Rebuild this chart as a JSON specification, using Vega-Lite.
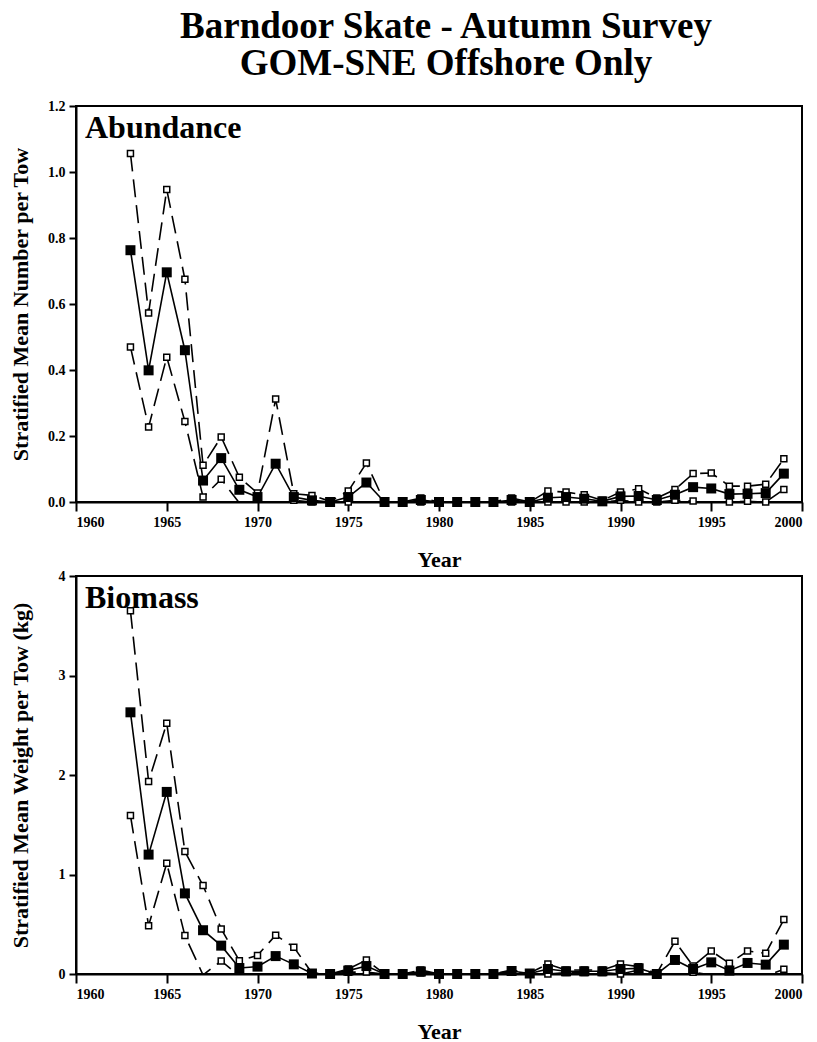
{
  "$schema": "https://vega.github.io/schema/vega-lite/v6.json",
  "background": "white",
  "padding": {"left": 8, "top": 8, "right": 12, "bottom": 0},
  "title": {
    "text": ["Barndoor Skate - Autumn Survey", "GOM-SNE Offshore Only"],
    "font": "Liberation Serif", "fontSize": 37, "fontWeight": "bold",
    "lineHeight": 37, "anchor": "middle", "color": "black", "offset": 15, "dx": 40
  },
  "config": {
    "view": {"stroke": "black", "strokeWidth": 2},
    "axis": {
      "labelFont": "Liberation Serif", "labelFontWeight": "bold", "labelFontSize": 14, "labelColor": "black",
      "titleFont": "Liberation Serif", "titleFontWeight": "bold", "titleFontSize": 22, "titleColor": "black",
      "domainColor": "black", "domainWidth": 2, "tickColor": "black", "tickWidth": 2, "grid": false
    },
    "axisX": {"tickSize": 9, "labelPadding": 4, "titlePadding": 20},
    "axisY": {"tickSize": 7, "labelPadding": 4, "titlePadding": 8, "minExtent": 36, "maxExtent": 36}
  },
  "spacing": -3,
  "datasets": {
    "abund": [
      {"year": 1963, "mean": 0.763, "upper": 1.056, "lower": 0.470},
      {"year": 1964, "mean": 0.399, "upper": 0.573, "lower": 0.227},
      {"year": 1965, "mean": 0.696, "upper": 0.947, "lower": 0.439},
      {"year": 1966, "mean": 0.460, "upper": 0.675, "lower": 0.244},
      {"year": 1967, "mean": 0.065, "upper": 0.111, "lower": 0.015},
      {"year": 1968, "mean": 0.133, "upper": 0.197, "lower": 0.069},
      {"year": 1969, "mean": 0.037, "upper": 0.075, "lower": -0.003},
      {"year": 1970, "mean": 0.015, "upper": 0.027, "lower": -0.004},
      {"year": 1971, "mean": 0.116, "upper": 0.312, "lower": -0.080},
      {"year": 1972, "mean": 0.015, "upper": 0.025, "lower": 0.005},
      {"year": 1973, "mean": 0.005, "upper": 0.020, "lower": 0},
      {"year": 1974, "mean": 0, "upper": 0.002, "lower": 0},
      {"year": 1975, "mean": 0.015, "upper": 0.033, "lower": 0},
      {"year": 1976, "mean": 0.059, "upper": 0.118, "lower": -0.005},
      {"year": 1977, "mean": 0, "upper": 0, "lower": 0},
      {"year": 1978, "mean": 0, "upper": 0, "lower": 0},
      {"year": 1979, "mean": 0.006, "upper": 0.012, "lower": 0},
      {"year": 1980, "mean": 0, "upper": 0, "lower": 0},
      {"year": 1981, "mean": 0, "upper": 0, "lower": 0},
      {"year": 1982, "mean": 0, "upper": 0, "lower": 0},
      {"year": 1983, "mean": 0, "upper": 0, "lower": 0},
      {"year": 1984, "mean": 0.006, "upper": 0.012, "lower": 0},
      {"year": 1985, "mean": 0, "upper": 0, "lower": 0},
      {"year": 1986, "mean": 0.013, "upper": 0.033, "lower": 0},
      {"year": 1987, "mean": 0.015, "upper": 0.030, "lower": 0},
      {"year": 1988, "mean": 0.010, "upper": 0.022, "lower": 0},
      {"year": 1989, "mean": 0.002, "upper": 0.005, "lower": 0},
      {"year": 1990, "mean": 0.017, "upper": 0.030, "lower": 0.005},
      {"year": 1991, "mean": 0.018, "upper": 0.040, "lower": 0},
      {"year": 1992, "mean": 0.006, "upper": 0.012, "lower": 0},
      {"year": 1993, "mean": 0.022, "upper": 0.038, "lower": 0.005},
      {"year": 1994, "mean": 0.045, "upper": 0.086, "lower": 0.003},
      {"year": 1995, "mean": 0.041, "upper": 0.088, "lower": -0.008},
      {"year": 1996, "mean": 0.024, "upper": 0.048, "lower": 0},
      {"year": 1997, "mean": 0.025, "upper": 0.048, "lower": 0.002},
      {"year": 1998, "mean": 0.027, "upper": 0.054, "lower": 0},
      {"year": 1999, "mean": 0.086, "upper": 0.131, "lower": 0.038}
    ],
    "bio": [
      {"year": 1963, "mean": 2.63, "upper": 3.65, "lower": 1.593},
      {"year": 1964, "mean": 1.20, "upper": 1.935, "lower": 0.486},
      {"year": 1965, "mean": 1.83, "upper": 2.52, "lower": 1.113},
      {"year": 1966, "mean": 0.81, "upper": 1.23, "lower": 0.386},
      {"year": 1967, "mean": 0.44, "upper": 0.889, "lower": -0.01},
      {"year": 1968, "mean": 0.285, "upper": 0.453, "lower": 0.131},
      {"year": 1969, "mean": 0.06, "upper": 0.134, "lower": -0.02},
      {"year": 1970, "mean": 0.074, "upper": 0.187, "lower": -0.04},
      {"year": 1971, "mean": 0.18, "upper": 0.39, "lower": -0.03},
      {"year": 1972, "mean": 0.097, "upper": 0.27, "lower": -0.08},
      {"year": 1973, "mean": 0.005, "upper": 0.01, "lower": 0},
      {"year": 1974, "mean": 0, "upper": 0, "lower": 0},
      {"year": 1975, "mean": 0.034, "upper": 0.05, "lower": 0.018},
      {"year": 1976, "mean": 0.08, "upper": 0.14, "lower": 0.02},
      {"year": 1977, "mean": 0, "upper": 0, "lower": 0},
      {"year": 1978, "mean": 0, "upper": 0, "lower": 0},
      {"year": 1979, "mean": 0.025, "upper": 0.04, "lower": 0.01},
      {"year": 1980, "mean": 0, "upper": 0, "lower": 0},
      {"year": 1981, "mean": 0, "upper": 0, "lower": 0},
      {"year": 1982, "mean": 0, "upper": 0, "lower": 0},
      {"year": 1983, "mean": 0, "upper": 0, "lower": 0},
      {"year": 1984, "mean": 0.03, "upper": 0.04, "lower": 0.02},
      {"year": 1985, "mean": 0.005, "upper": 0.01, "lower": 0},
      {"year": 1986, "mean": 0.05, "upper": 0.10, "lower": 0},
      {"year": 1987, "mean": 0.027, "upper": 0.04, "lower": 0.014},
      {"year": 1988, "mean": 0.027, "upper": 0.04, "lower": 0.014},
      {"year": 1989, "mean": 0.027, "upper": 0.04, "lower": 0.014},
      {"year": 1990, "mean": 0.05, "upper": 0.10, "lower": 0},
      {"year": 1991, "mean": 0.057, "upper": 0.074, "lower": 0.04},
      {"year": 1992, "mean": 0, "upper": 0.005, "lower": 0},
      {"year": 1993, "mean": 0.141, "upper": 0.329, "lower": -0.05},
      {"year": 1994, "mean": 0.05, "upper": 0.08, "lower": 0.017},
      {"year": 1995, "mean": 0.117, "upper": 0.231, "lower": -0.01},
      {"year": 1996, "mean": 0.034, "upper": 0.107, "lower": -0.04},
      {"year": 1997, "mean": 0.111, "upper": 0.231, "lower": -0.01},
      {"year": 1998, "mean": 0.094, "upper": 0.208, "lower": -0.02},
      {"year": 1999, "mean": 0.295, "upper": 0.547, "lower": 0.047}
    ]
  },
  "vconcat": [
    {
      "width": 726, "height": 396,
      "encoding": {
        "x": {"field": "year", "type": "quantitative", "scale": {"domain": [1960, 2000], "nice": false, "zero": false},
              "axis": {"values": [1960, 1965, 1970, 1975, 1980, 1985, 1990, 1995, 2000], "format": "d", "title": "Year"}},
        "y": {"field": "value", "type": "quantitative", "scale": {"domain": [0, 1.2], "nice": false},
              "axis": {"values": [0, 0.2, 0.4, 0.6, 0.8, 1.0, 1.2], "format": ".1f", "title": "Stratified Mean Number per Tow"}}
      },
      "layer": [
        {"data": {"name": "abund"},
         "transform": [{"fold": ["mean", "upper", "lower"], "as": ["series", "value"]}, {"filter": "datum.series !== 'mean'"}],
         "mark": {"type": "line", "color": "black", "strokeWidth": 1.6, "strokeDash": [18, 8], "clip": true},
         "encoding": {"detail": {"field": "series"}}},
        {"data": {"name": "abund"},
         "transform": [{"fold": ["mean", "upper", "lower"], "as": ["series", "value"]}, {"filter": "datum.series === 'mean'"}],
         "mark": {"type": "line", "color": "black", "strokeWidth": 1.6, "clip": true}},
        {"data": {"name": "abund"},
         "transform": [{"fold": ["mean", "upper", "lower"], "as": ["series", "value"]}, {"filter": "datum.series !== 'mean' && datum.value >= 0"}],
         "mark": {"type": "point", "shape": "square", "filled": true, "fill": "white", "stroke": "black", "strokeWidth": 1.5, "size": 36, "opacity": 1}},
        {"data": {"name": "abund"},
         "transform": [{"fold": ["mean", "upper", "lower"], "as": ["series", "value"]}, {"filter": "datum.series === 'mean'"}],
         "mark": {"type": "point", "shape": "square", "filled": true, "fill": "black", "size": 100, "opacity": 1}},
        {"data": {"values": [{"label": "Abundance", "year": 1960, "value": 1.2}]},
         "mark": {"type": "text", "font": "Liberation Serif", "fontSize": 32, "fontWeight": "bold", "color": "black", "align": "left", "baseline": "alphabetic", "dx": 9, "dy": 32},
         "encoding": {"text": {"field": "label"}}}
      ]
    },
    {
      "width": 726, "height": 398,
      "encoding": {
        "x": {"field": "year", "type": "quantitative", "scale": {"domain": [1960, 2000], "nice": false, "zero": false},
              "axis": {"values": [1960, 1965, 1970, 1975, 1980, 1985, 1990, 1995, 2000], "format": "d", "title": "Year"}},
        "y": {"field": "value", "type": "quantitative", "scale": {"domain": [0, 4], "nice": false},
              "axis": {"values": [0, 1, 2, 3, 4], "format": "d", "title": "Stratified Mean Weight per Tow (kg)"}}
      },
      "layer": [
        {"data": {"name": "bio"},
         "transform": [{"fold": ["mean", "upper", "lower"], "as": ["series", "value"]}, {"filter": "datum.series !== 'mean'"}],
         "mark": {"type": "line", "color": "black", "strokeWidth": 1.6, "strokeDash": [18, 8], "clip": true},
         "encoding": {"detail": {"field": "series"}}},
        {"data": {"name": "bio"},
         "transform": [{"fold": ["mean", "upper", "lower"], "as": ["series", "value"]}, {"filter": "datum.series === 'mean'"}],
         "mark": {"type": "line", "color": "black", "strokeWidth": 1.6, "clip": true}},
        {"data": {"name": "bio"},
         "transform": [{"fold": ["mean", "upper", "lower"], "as": ["series", "value"]}, {"filter": "datum.series !== 'mean' && datum.value >= 0"}],
         "mark": {"type": "point", "shape": "square", "filled": true, "fill": "white", "stroke": "black", "strokeWidth": 1.5, "size": 36, "opacity": 1}},
        {"data": {"name": "bio"},
         "transform": [{"fold": ["mean", "upper", "lower"], "as": ["series", "value"]}, {"filter": "datum.series === 'mean'"}],
         "mark": {"type": "point", "shape": "square", "filled": true, "fill": "black", "size": 100, "opacity": 1}},
        {"data": {"values": [{"label": "Biomass", "year": 1960, "value": 4}]},
         "mark": {"type": "text", "font": "Liberation Serif", "fontSize": 32, "fontWeight": "bold", "color": "black", "align": "left", "baseline": "alphabetic", "dx": 9, "dy": 32},
         "encoding": {"text": {"field": "label"}}}
      ]
    }
  ]
}
